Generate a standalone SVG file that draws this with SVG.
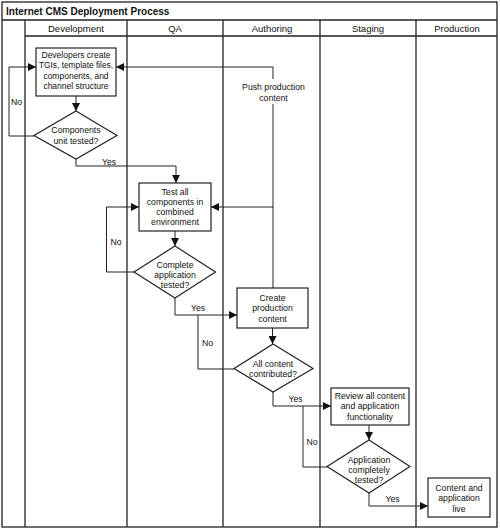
<svg xmlns="http://www.w3.org/2000/svg" width="500" height="528" viewBox="0 0 500 528">
<style>
text{font-family:"Liberation Sans",Arial,sans-serif;font-size:8.7px;fill:#111;text-anchor:middle}
.title{font-size:10px;font-weight:bold;text-anchor:start}
.hdr{font-size:9.5px}
.frame{fill:none;stroke:#222;stroke-width:1.3}
.node{fill:#fff;stroke:#222;stroke-width:1.2}
.conn{fill:none;stroke:#222;stroke-width:1}
#n1 text{font-size:8.5px}
</style>
<defs>
<marker id="arr" viewBox="0 0 10 10" refX="10" refY="5" markerWidth="8" markerHeight="8" markerUnits="userSpaceOnUse" orient="auto">
<path d="M0,0 L10,5 L0,10 z" fill="#111"/>
</marker>
</defs>
<rect x="0" y="0" width="500" height="528" fill="#fff"/>
<g id="frame">
<rect class="frame" x="2" y="2" width="495" height="525"/>
<line class="frame" x1="2" y1="20" x2="497" y2="20"/>
<line class="frame" x1="25" y1="36" x2="497" y2="36"/>
<line class="frame" x1="25" y1="20" x2="25" y2="527"/>
<line class="frame" x1="127" y1="20" x2="127" y2="527"/>
<line class="frame" x1="223" y1="20" x2="223" y2="527"/>
<line class="frame" x1="320" y1="20" x2="320" y2="527"/>
<line class="frame" x1="416" y1="20" x2="416" y2="527"/>
<text class="title" x="6" y="15">Internet CMS Deployment Process</text>
<text class="hdr" x="76" y="31.5">Development</text>
<text class="hdr" x="175" y="31.5">QA</text>
<text class="hdr" x="272" y="31.5">Authoring</text>
<text class="hdr" x="368" y="31.5">Staging</text>
<text class="hdr" x="457" y="31.5">Production</text>
</g>
<g id="connectors">
<line class="conn" x1="76" y1="96" x2="76" y2="111" marker-end="url(#arr)"/>
<polyline class="conn" points="34,136 9,136 9,67 36,67" marker-end="url(#arr)"/>
<polyline class="conn" points="76,159 76,166 176,166 176,183" marker-end="url(#arr)"/>
<polyline class="conn" points="273,79 273,67 116,67" marker-end="url(#arr)"/>
<line class="conn" x1="273" y1="104" x2="273" y2="288"/>
<line class="conn" x1="273" y1="207" x2="211" y2="207" marker-end="url(#arr)"/>
<line class="conn" x1="175" y1="231" x2="175" y2="246" marker-end="url(#arr)"/>
<polyline class="conn" points="134,272 106.5,272 106.5,207 139,207" marker-end="url(#arr)"/>
<polyline class="conn" points="175,298 175,315 237,315" marker-end="url(#arr)"/>
<line class="conn" x1="272.5" y1="328" x2="272.5" y2="344" marker-end="url(#arr)"/>
<polyline class="conn" points="234,369 198,369 198,315"/>
<polyline class="conn" points="273,392 273,406 331,406" marker-end="url(#arr)"/>
<line class="conn" x1="369" y1="425" x2="369" y2="440" marker-end="url(#arr)"/>
<polyline class="conn" points="327,467 303,467 303,406"/>
<polyline class="conn" points="369,493 369,506 428,506" marker-end="url(#arr)"/>
<text x="16.5" y="105">No</text>
<text x="109" y="165">Yes</text>
<text x="273.5" y="90">Push production</text>
<text x="273.5" y="101">content</text>
<text x="116" y="245">No</text>
<text x="198" y="311">Yes</text>
<text x="207.5" y="346">No</text>
<text x="295.5" y="401.5">Yes</text>
<text x="312" y="444.5">No</text>
<text x="392.5" y="501.5">Yes</text>
</g>
<g id="n1">
<rect class="node" x="36" y="48" width="80" height="48"/>
<text x="76" y="57.5">Developers create</text>
<text x="76" y="68" textLength="74" lengthAdjust="spacingAndGlyphs">TGIs, template files,</text>
<text x="76" y="78.5">components, and</text>
<text x="76" y="89">channel structure</text>
</g>
<g id="d1">
<polygon class="node" points="76,111 117,135.5 76,159 34,135.5"/>
<text x="76" y="133">Components</text>
<text x="76" y="144">unit tested?</text>
</g>
<g id="n2">
<rect class="node" x="139" y="183" width="72" height="48"/>
<text x="175" y="195">Test all</text>
<text x="175" y="205">components in</text>
<text x="175" y="215">combined</text>
<text x="175" y="225">environment</text>
</g>
<g id="d2">
<polygon class="node" points="175,246 215.5,272 175,298 134,272"/>
<text x="175" y="267.5">Complete</text>
<text x="175" y="277.5">application</text>
<text x="175" y="287.5">tested?</text>
</g>
<g id="n3">
<rect class="node" x="237" y="288" width="71" height="40"/>
<text x="272.5" y="301">Create</text>
<text x="272.5" y="311">production</text>
<text x="272.5" y="321.5">content</text>
</g>
<g id="d3">
<polygon class="node" points="273,344 313,368.5 273,392 234,368.5"/>
<text x="273" y="366.5">All content</text>
<text x="273" y="377">contributed?</text>
</g>
<g id="n4">
<rect class="node" x="331" y="388" width="78" height="37"/>
<text x="370" y="398.5">Review all content</text>
<text x="370" y="409">and application</text>
<text x="370" y="419.5">functionality</text>
</g>
<g id="d4">
<polygon class="node" points="369,440 410,466.5 369,493 327,466.5"/>
<text x="369" y="462.5">Application</text>
<text x="369" y="472.5">completely</text>
<text x="369" y="482.5">tested?</text>
</g>
<g id="n5">
<rect class="node" x="428" y="478" width="62" height="39"/>
<text x="459" y="491">Content and</text>
<text x="459" y="501">application</text>
<text x="459" y="511.5">live</text>
</g>
</svg>
